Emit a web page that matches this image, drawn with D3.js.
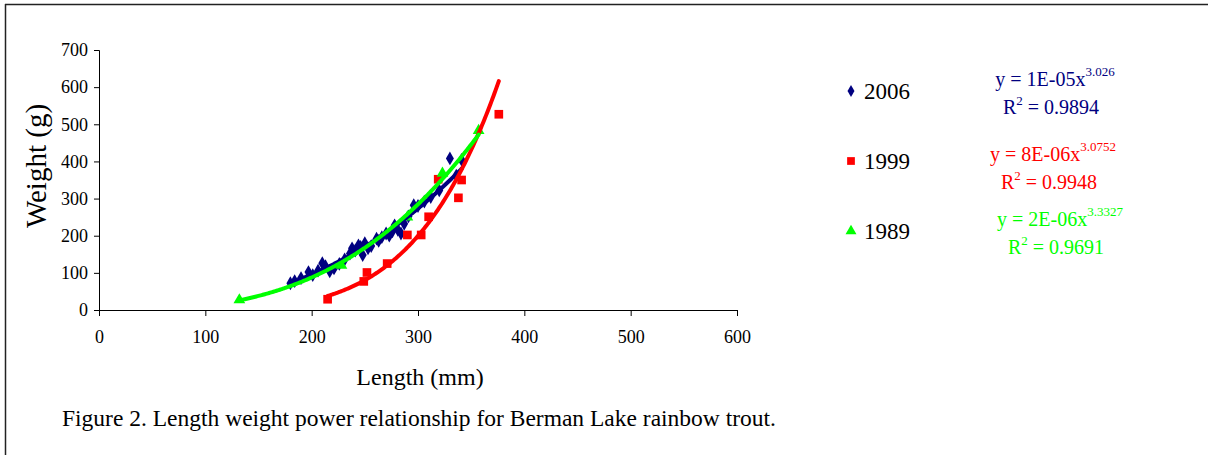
<!DOCTYPE html>
<html>
<head>
<meta charset="utf-8">
<title>Berman Lake rainbow trout</title>
<style>
  body { margin: 0; background: #fff; }
  svg text { font-family: "Liberation Serif", "Times New Roman", serif; }
  .tick text { font-size: 18px; fill: #000; }
  .axis path, .axis line { stroke: #000; stroke-width: 1; }
</style>
<script src="https://cdn.jsdelivr.net/npm/d3@7/dist/d3.min.js"></script>
</head>
<body>
<script>
  // 2006 sample: [length mm, weight g]
  var data2006 = [
    [180, 72], [184, 78], [190, 86], [197, 102], [201, 94], [206, 106],
    [210, 126], [213, 118], [217, 104], [221, 112], [226, 124], [231, 136],
    [236, 152], [238, 166], [241, 160], [244, 174], [246, 170], [248, 148],
    [250, 180], [253, 166], [256, 172], [261, 192], [263, 186], [266, 196],
    [270, 206], [273, 200], [276, 212], [278, 228], [281, 216], [284, 206],
    [287, 232], [291, 252], [296, 282], [300, 280], [306, 292], [312, 304],
    [320, 322], [330, 408], [336, 362], [341, 404]
  ];
  // 1999 sample
  var data1999 = [
    [215, 29], [249, 77], [252, 101], [271, 125], [290, 202], [303, 202],
    [310, 251], [319, 352], [338, 302], [341, 350], [376, 527]
  ];
  // 1989 sample
  var data1989 = [
    [132, 27], [228, 120], [290, 250], [323, 368], [357, 483]
  ];

  var seriesNames = ['2006', '1999', '1989'];
  var seriesColors = ['#000080', '#ff0000', '#00ff00'];
  var seriesData = [data2006, data1999, data1989];
  var equations = [
    ['y = 1E-05x', '3.026', '0.9894'],
    ['y = 8E-06x', '3.0752', '0.9948'],
    ['y = 2E-06x', '3.3327', '0.9691']
  ];
  var xTicks = [0, 100, 200, 300, 400, 500, 600];
  var yTicks = [0, 100, 200, 300, 400, 500, 600, 700];

  var W = 1208, H = 455;
  var svg = d3.select('body').append('svg')
    .attr('width', W).attr('height', H);

  // frame (top and left edges only)
  svg.append('line').attr('x1', 5).attr('y1', 4.5).attr('x2', W).attr('y2', 4.5)
    .attr('stroke', '#222').attr('stroke-width', 1.5);
  svg.append('line').attr('x1', 5.5).attr('y1', 4).attr('x2', 5.5).attr('y2', H)
    .attr('stroke', '#222').attr('stroke-width', 1.5);

  var x = d3.scaleLinear().domain([0, 600]).range([99, 737]);
  var y = d3.scaleLinear().domain([0, 700]).range([310, 50]);

  svg.append('g').attr('class', 'axis')
    .attr('transform', 'translate(0,310)')
    .call(d3.axisBottom(x).tickValues(xTicks).tickSizeOuter(0).tickSize(6).tickPadding(14));
  svg.append('g').attr('class', 'axis')
    .attr('transform', 'translate(99,0)')
    .call(d3.axisLeft(y).tickValues(yTicks).tickSizeOuter(0).tickSize(5).tickPadding(6));
  svg.selectAll('.tick text').attr('font-family', 'Liberation Serif');

  svg.append('text')
    .attr('transform', 'translate(46,166) rotate(-90)')
    .attr('text-anchor', 'middle')
    .style('font-size', '29px')
    .text('Weight (g)');
  svg.append('text')
    .attr('x', 420).attr('y', 385)
    .attr('text-anchor', 'middle')
    .style('font-size', '24px')
    .text('Length (mm)');
  svg.append('text')
    .attr('x', 62).attr('y', 426)
    .style('font-size', '23.5px')
    .text('Figure 2. Length weight power relationship for Berman Lake rainbow trout.');

  var shapes = [d3.symbolDiamond, d3.symbolSquare, d3.symbolTriangle];
  var sizes = [55, 75, 60];

  // markers
  seriesData.forEach(function(d, i) {
    svg.append('g').selectAll('path')
      .data(d).enter().append('path')
      .attr('d', d3.symbol().type(shapes[i]).size(sizes[i]))
      .attr('transform', function(p) {
        return 'translate(' + x(p[0]) + ',' + y(p[1]) + ')';
      })
      .attr('fill', seriesColors[i]);
  });

  // power trendlines (least squares on log-log, as a spreadsheet does)
  function powerFit(d) {
    var lx = d.map(function(p) { return Math.log(p[0]); });
    var ly = d.map(function(p) { return Math.log(p[1]); });
    var mx = d3.mean(lx), my = d3.mean(ly);
    var sxy = d3.sum(lx, function(v, k) { return (v - mx) * (ly[k] - my); });
    var sxx = d3.sum(lx, function(v) { return (v - mx) * (v - mx); });
    var b = sxy / sxx;
    var a = Math.exp(my - b * mx);
    return function(v) { return a * Math.pow(v, b); };
  }

  var line = d3.line()
    .x(function(p) { return x(p[0]); })
    .y(function(p) { return y(p[1]); });

  seriesData.forEach(function(d, i) {
    var f = powerFit(d);
    var ext = d3.extent(d, function(p) { return p[0]; });
    var pts = d3.range(ext[0], ext[1], 1).concat([ext[1]]).map(function(v) {
      return [v, f(v)];
    });
    svg.append('path')
      .datum(pts)
      .attr('d', line)
      .attr('fill', 'none')
      .attr('stroke', seriesColors[i])
      .attr('stroke-width', 4)
      .attr('stroke-linecap', 'round');
  });

  // legend
  var legendY = [91, 161, 231];
  var legend = svg.append('g').selectAll('g')
    .data(seriesNames).enter().append('g')
    .attr('transform', function(d, i) { return 'translate(851,' + legendY[i] + ')'; });
  legend.append('path')
    .attr('d', function(d, i) {
      return d3.symbol().type(shapes[i]).size([42, 60, 52][i])();
    })
    .attr('fill', function(d, i) { return seriesColors[i]; });
  legend.append('text')
    .attr('x', 13).attr('y', 8)
    .style('font-size', '23px')
    .text(function(d) { return d; });

  // equation labels
  var eqX = [1055, 1053, 1060];
  var eqY = [86, 161, 226];
  var eq = svg.append('g').selectAll('g')
    .data(equations).enter().append('g')
    .attr('transform', function(d, i) { return 'translate(' + eqX[i] + ',' + eqY[i] + ')'; })
    .attr('fill', function(d, i) { return seriesColors[i]; });
  var t1 = eq.append('text')
    .attr('text-anchor', 'middle')
    .style('font-size', '20px');
  t1.append('tspan').text(function(d) { return d[0]; });
  t1.append('tspan').attr('dy', -10).style('font-size', '13px')
    .text(function(d) { return d[1]; });
  var t2 = eq.append('text')
    .attr('x', -4).attr('y', 28)
    .attr('text-anchor', 'middle')
    .style('font-size', '20px');
  t2.append('tspan').text('R');
  t2.append('tspan').attr('dy', -9).style('font-size', '13px').text('2');
  t2.append('tspan').attr('dy', 9).text(function(d) { return '\u00a0=\u00a0' + d[2]; });
</script>
</body>
</html>
